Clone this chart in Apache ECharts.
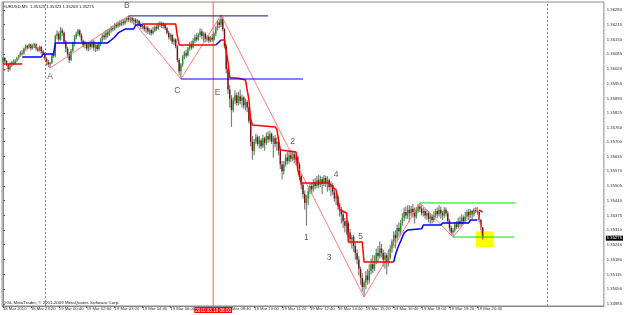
<!DOCTYPE html>
<html><head><meta charset="utf-8">
<script src="https://cdn.jsdelivr.net/npm/echarts@6/dist/echarts.min.js"></script>
<style>html,body{margin:0;padding:0;background:#fff}#c{width:625px;height:315px}</style>
</head><body><div id="c"></div><script>
// ---------- data ----------
const headerText = 'EURUSD,M5  1.35323 1.35323 1.35268 1.35275';
const copyrightText = 'OGL MetaTrader, \u00a9 2001-2009 MetaQuotes Software Corp.';
const slotCount = 345;            // bars that fit in the window (incl. empty right shift)
const basePrice = 1.3;            // prices below are points above 1.30000
const priceMin = 1.349762, priceMax = 1.363152;
const timeTickBars = [0,16,32,48,64,80,96,128,144,160,176,192,208,224,240,256,272];
const timeTickText = ['18 Mar 2010','18 Mar 23:20','19 Mar 00:40','19 Mar 02:00','19 Mar 03:20','19 Mar 04:40','19 Mar 06:00','19 Mar 08:40','19 Mar 10:00','19 Mar 11:20','19 Mar 12:40','19 Mar 14:00','19 Mar 15:20','19 Mar 16:40','19 Mar 18:00','19 Mar 19:20','19 Mar 20:40'];
const priceTicks = [1.36280,1.36215,1.36150,1.36085,1.36020,1.35955,1.35890,1.35825,1.35760,1.35700,1.35635,1.35570,1.35505,1.35440,1.35375,1.35310,1.35246,1.35180,1.35115,1.35050,1.34985];
const lastPrice = 1.35275;
// M5 candles, [open, close, low, high] in points above 1.30000
const ohlcPts = [
[6051,6069,6042,6073],[6069,6055,6047,6073],[6055,6040,6033,6060],[6040,6020,6007,6047],[6020,6035,6012,6051],[6035,6050,6030,6056],[6050,6042,6036,6062],[6042,6058,6040,6064],
[6058,6068,6050,6075],[6068,6080,6062,6084],[6080,6092,6075,6100],[6092,6088,6080,6104],[6088,6110,6084,6115],[6110,6122,6104,6128],[6122,6115,6108,6126],[6115,6128,6110,6132],
[6128,6112,6102,6130],[6112,6125,6106,6130],[6125,6130,6113,6135],[6130,6110,6100,6132],[6110,6102,6095,6118],[6102,6118,6098,6124],[6118,6098,6090,6120],[6098,6090,6082,6104],
[6090,6065,6058,6094],[6065,6050,6036,6072],[6050,6040,6030,6060],[6040,6048,6024,6052],[6048,6085,6042,6090],[6085,6078,6069,6100],[6078,6165,6072,6172],[6165,6175,6150,6190],
[6175,6150,6140,6185],[6150,6190,6145,6205],[6190,6180,6165,6200],[6180,6140,6128,6185],[6140,6110,6095,6148],[6110,6085,6070,6118],[6085,6060,6047,6095],[6060,6100,6055,6108],
[6100,6130,6095,6140],[6130,6160,6120,6170],[6160,6175,6150,6185],[6175,6190,6165,6196],[6190,6170,6160,6195],[6170,6145,6138,6178],[6145,6125,6115,6150],[6125,6135,6110,6145],
[6135,6110,6100,6140],[6110,6130,6098,6138],[6130,6118,6105,6145],[6118,6140,6110,6150],[6140,6115,6100,6148],[6115,6125,6095,6132],[6125,6108,6098,6135],[6108,6130,6102,6140],
[6130,6150,6120,6158],[6150,6168,6140,6178],[6168,6160,6148,6185],[6160,6180,6150,6192],[6180,6172,6158,6195],[6172,6190,6165,6200],[6190,6200,6180,6210],[6200,6195,6185,6212],
[6195,6215,6190,6222],[6215,6208,6200,6225],[6208,6222,6202,6230],[6222,6215,6205,6235],[6215,6228,6210,6238],[6228,6222,6212,6240],[6222,6235,6215,6245],[6235,6245,6225,6250],
[6245,6238,6228,6254],[6238,6245,6225,6250],[6245,6230,6220,6250],[6230,6238,6215,6245],[6238,6225,6218,6244],[6225,6232,6215,6240],[6232,6218,6210,6236],[6218,6205,6195,6225],
[6205,6212,6195,6222],[6212,6195,6185,6218],[6195,6202,6180,6210],[6202,6185,6175,6208],[6185,6192,6170,6200],[6192,6178,6168,6198],[6178,6190,6172,6205],[6190,6205,6182,6212],
[6205,6198,6188,6215],[6198,6215,6192,6225],[6215,6222,6205,6230],[6222,6210,6200,6228],[6210,6218,6198,6226],[6218,6200,6192,6222],[6200,6180,6172,6205],[6180,6160,6150,6190],
[6160,6170,6145,6178],[6170,6140,6130,6175],[6140,6150,6125,6158],[6150,6120,6112,6155],[6120,6060,6050,6125],[6060,6010,5995,6068],[6010,6040,5976,6045],[6040,6075,6030,6082],
[6075,6090,6062,6100],[6090,6080,6068,6105],[6080,6110,6075,6118],[6110,6130,6100,6140],[6130,6115,6105,6142],[6115,6145,6110,6155],[6145,6160,6135,6172],[6160,6150,6140,6178],
[6150,6170,6145,6180],[6170,6185,6160,6200],[6185,6165,6150,6195],[6165,6175,6140,6185],[6175,6150,6138,6182],[6150,6162,6140,6170],[6162,6145,6135,6168],[6145,6158,6138,6165],
[6158,6150,6140,6175],[6150,6175,6145,6182],[6175,6200,6165,6210],[6200,6225,6190,6232],[6225,6215,6200,6240],[6215,6240,6205,6258],[6240,6195,6185,6250],[6195,6120,6110,6200],
[6120,6020,6000,6130],[6020,5930,5910,6030],[5930,5890,5850,5950],[5890,5840,5765,5905],[5840,5880,5830,5895],[5880,5905,5865,5925],[5905,5870,5858,5915],[5870,5900,5860,5920],
[5900,5880,5865,5930],[5880,5895,5850,5908],[5895,5860,5845,5900],[5860,5875,5838,5890],[5875,5850,5830,5885],[5850,5790,5780,5858],[5790,5700,5680,5800],[5700,5660,5620,5725],
[5660,5700,5640,5712],[5700,5720,5690,5735],[5720,5690,5680,5728],[5690,5705,5670,5725],[5705,5680,5668,5715],[5680,5715,5672,5730],[5715,5695,5660,5722],[5695,5725,5685,5740],
[5725,5710,5695,5745],[5710,5735,5700,5748],[5735,5700,5690,5740],[5700,5715,5630,5725],[5715,5690,5675,5730],[5690,5700,5660,5720],[5700,5660,5640,5705],[5660,5600,5580,5668],
[5600,5570,5535,5615],[5570,5600,5555,5615],[5600,5630,5590,5645],[5630,5615,5600,5655],[5615,5640,5605,5660],[5640,5625,5610,5663],[5625,5645,5615,5660],[5645,5620,5605,5655],
[5620,5630,5595,5640],[5630,5600,5580,5638],[5600,5550,5530,5610],[5550,5510,5490,5560],[5510,5470,5450,5520],[5470,5430,5400,5485],[5430,5450,5330,5465],[5450,5480,5420,5495],
[5480,5505,5470,5515],[5505,5490,5470,5520],[5490,5520,5480,5535],[5520,5505,5490,5540],[5505,5530,5495,5550],[5530,5510,5495,5553],[5510,5535,5500,5550],[5535,5515,5470,5545],
[5515,5540,5505,5553],[5540,5520,5500,5550],[5520,5530,5480,5548],[5530,5500,5485,5538],[5500,5510,5460,5525],[5510,5480,5465,5518],[5480,5450,5435,5490],[5450,5460,5420,5475],
[5460,5420,5400,5468],[5420,5400,5370,5430],[5400,5380,5340,5412],[5380,5350,5320,5390],[5350,5330,5300,5365],[5330,5340,5290,5355],[5340,5300,5280,5350],[5300,5270,5250,5315],
[5270,5280,5230,5290],[5280,5240,5215,5290],[5240,5210,5180,5255],[5210,5180,5160,5225],[5180,5140,5110,5195],[5140,5100,5070,5150],[5100,5060,5040,5120],[5060,5080,5016,5090],
[5080,5110,5050,5130],[5110,5090,5070,5140],[5090,5130,5075,5160],[5130,5160,5115,5185],[5160,5140,5120,5200],[5140,5175,5130,5200],[5175,5210,5160,5230],[5210,5195,5170,5240],
[5195,5230,5185,5260],[5230,5210,5190,5250],[5210,5180,5150,5225],[5180,5200,5140,5215],[5200,5170,5115,5210],[5170,5190,5150,5225],[5190,5230,5180,5245],[5230,5260,5210,5270],
[5260,5290,5240,5305],[5290,5275,5230,5310],[5275,5320,5260,5335],[5320,5305,5280,5345],[5305,5340,5290,5355],[5340,5365,5330,5385],[5365,5390,5350,5410],[5390,5375,5360,5415],
[5375,5400,5360,5420],[5400,5385,5345,5420],[5385,5405,5370,5418],[5405,5390,5365,5425],[5390,5370,5340,5410],[5370,5395,5360,5412],[5395,5415,5385,5425],[5415,5405,5390,5430],
[5405,5385,5375,5420],[5385,5395,5370,5410],[5395,5375,5360,5405],[5375,5385,5355,5400],[5385,5360,5345,5395],[5360,5370,5338,5385],[5370,5355,5340,5380],[5355,5375,5345,5392],
[5375,5395,5365,5405],[5395,5380,5365,5410],[5380,5400,5370,5420],[5400,5385,5360,5415],[5385,5375,5355,5395],[5375,5400,5365,5412],[5400,5385,5370,5410],[5385,5350,5340,5395],
[5350,5320,5305,5360],[5320,5300,5290,5330],[5300,5310,5280,5320],[5310,5335,5300,5345],[5335,5325,5315,5350],[5325,5350,5318,5365],[5350,5340,5325,5370],[5340,5365,5330,5380],
[5365,5350,5335,5375],[5350,5370,5340,5390],[5370,5390,5360,5400],[5390,5375,5355,5405],[5375,5395,5365,5402],[5395,5380,5360,5400],[5380,5400,5370,5408],[5400,5395,5385,5410],
[5395,5390,5378,5412],[5390,5355,5345,5395],[5355,5323,5310,5360],[5323,5275,5268,5323]
];
// trailing-stop indicator vertices [bar, points]
const redStop1 = [[0,6042],[11,6042]];
const blueStop1 = [[11,6073],[22,6073],[23,6086],[29,6086],[30,6135],[60,6135],[64,6160],[66,6179],[70,6196],[75,6196],[76,6214],[80,6214]];
const redStop2 = [[80,6218],[99,6218],[100,6165],[101,6126],[122,6126]];
const blueStop2 = [[122,6126],[124,6140],[125,6148]];
const redStop3 = [[125,6148],[127,6148],[129,6051],[130,5983],[135,5979],[139,5972],[141,5884],[142,5800],[143,5773],[156,5765],[157,5755],[159,5663],[168,5655],[169,5575],[171,5518],[187,5518],[189,5500],[191,5487],[193,5400],[197,5386],[198,5258],[206,5258],[207,5170],[224,5170]];
const blueStop3 = [[224,5170],[225,5201],[226,5225],[227,5245],[228,5262],[229,5280],[230,5298],[232,5311],[233,5316],[240,5316],[241,5333],[251,5333],[252,5342],[267,5342],[268,5355],[272,5355]];
const redStop4 = [[273,5399],[275,5390]];
// zigzag pivots [bar, points]
const zigzagPts = [[0,6007],[18,6135],[27,6024],[72,6254],[102,5976],[125,6258],[207,5016],[239,5430],[258,5280],[272,5412],[275,5268]];
// horizontal line objects: [fromBar, toBar, points]
const levelHighB = [72,152,6254];
const levelLowC = [102,172,5976];
const greenTop = [239,294,5430];
const greenBottom = [258,293,5280];
// vertical objects (bar index)
const daySeparators = [24,312];
const redVLineBar = 120.5;
const redVLineText = '2010.03.19 08:00';
// yellow rectangle [fromBar, toBar, topPts, bottomPts]
const yellowBox = [271.2,281.4,5305,5236];
// wave labels [bar, points, text]
const waveLabels = [[27,5985,'A'],[71,6298,'B'],[100,5923,'C'],[123,5914,'E'],[174,5276,'1'],[166,5699,'2'],[187,5188,'3'],[191,5553,'4'],[205,5280,'5']];

// ---------- build ----------
const P = v => +(basePrice + v/100000).toFixed(5);
const candleData = ohlcPts.map((r,i)=>[i,P(r[0]),P(r[1]),P(r[2]),P(r[3])]);
const toXY = arr => arr.map(p=>[p[0],P(p[1])]);
const tickMap = {}; timeTickBars.forEach((b,i)=>tickMap[b]=timeTickText[i]);
const FONT = '"Liberation Sans", Arial, sans-serif';
const CLEAR = 'rgba(0,0,0,0)';

function lineSeries(data,color,width,z,type){
  return {type:'line',data:toXY(data),symbol:'none',silent:true,animation:false,z:z,color:color,
    lineStyle:{color:color,width:width,type:type||'solid'}};
}
function levelSeries(l,color){
  return lineSeries([[l[0],l[2]],[l[1],l[2]]],color,1,4);
}

const chart = echarts.init(document.getElementById('c'),null,{renderer:'canvas'});
chart.setOption({
  animation:false,
  backgroundColor:'#ffffff',
  grid:{left:1,right:17,top:2,bottom:9,show:true,borderColor:'#8a8a8a',borderWidth:1},
  xAxis:{type:'value',min:-0.5,max:slotCount-0.5,
    axisLine:{show:true,onZero:false,lineStyle:{color:'#8a8a8a'}},
    splitLine:{show:false},
    axisTick:{show:true,customValues:timeTickBars,length:2,lineStyle:{color:'#666'}},
    axisLabel:{customValues:timeTickBars,formatter:v=>tickMap[Math.round(v)]||'',align:'left',
      margin:1,fontSize:4.2,color:'#333',fontFamily:FONT}},
  yAxis:{type:'value',position:'right',min:priceMin,max:priceMax,scale:true,
    axisLine:{show:true,lineStyle:{color:'#8a8a8a'}},
    splitLine:{show:false},
    axisTick:{show:true,customValues:priceTicks,length:2,lineStyle:{color:'#666'}},
    axisLabel:{customValues:priceTicks,formatter:v=>v.toFixed(5),margin:3,fontSize:4.2,color:'#333',fontFamily:FONT}},
  graphic:[
    {type:'text',left:3,top:5,silent:true,style:{text:headerText,fontSize:4.2,fill:'#222',fontFamily:FONT}},
    {type:'text',left:3,top:301,silent:true,style:{text:copyrightText,fontSize:4.4,fill:'#222',fontFamily:FONT}}
  ],
  series:[
    {type:'line',data:[],z:1,silent:true,color:'#8a8a8a',
      markArea:{silent:true,itemStyle:{color:'#ffff00',opacity:1},
        data:[[{coord:[yellowBox[0],P(yellowBox[2])]},{coord:[yellowBox[1],P(yellowBox[3])]}]]},
      markLine:{silent:true,symbol:'none',animation:false,label:{show:false},
        lineStyle:{color:'#8a8a8a',type:[2,2],width:1},
        data:daySeparators.map(b=>({xAxis:b}))}},
    // red vertical line object
    {type:'line',z:1,silent:true,symbol:'none',color:'#ff5a5a',
      lineStyle:{color:'#ff5a5a',width:1},
      data:[[redVLineBar,priceMin],[redVLineBar,priceMax]]},
    // its time label on the axis
    {type:'line',data:[],z:7,silent:true,color:'#ff0000',
      markLine:{silent:true,symbol:'none',animation:false,
        lineStyle:{color:CLEAR,width:0},
        label:{show:true,position:'start',distance:1,formatter:redVLineText,backgroundColor:'#ff0000',
          color:'#fff',opacity:1,fontSize:4.6,padding:[1,1,0,1],fontFamily:FONT},
        data:[{xAxis:redVLineBar}]}},
    // current price tag on the price axis
    {type:'line',z:7,silent:true,symbol:'none',color:'#000',
      lineStyle:{color:CLEAR,width:0},
      data:[[-0.5,lastPrice],[slotCount-0.5,lastPrice]],
      endLabel:{show:true,distance:2,formatter:lastPrice.toFixed(5),backgroundColor:'#000',
        color:'#fff',fontSize:4.2,padding:[1,1,0,1],fontFamily:FONT}},
    {type:'custom',z:2,silent:true,data:candleData,encode:{x:0,y:[1,2,3,4]},
      renderItem:function(params,api){
        const i=api.value(0),o=api.value(1),c=api.value(2),l=api.value(3),h=api.value(4);
        const pO=api.coord([i,o]),pC=api.coord([i,c]),pL=api.coord([i,l]),pH=api.coord([i,h]);
        const x=pO[0], bw=1.4;
        const top=Math.min(pO[1],pC[1]), ht=Math.max(1,Math.abs(pO[1]-pC[1]));
        return {type:'group',children:[
          {type:'line',shape:{x1:x,y1:pH[1],x2:x,y2:pL[1]},style:{stroke:'#808080',lineWidth:1.2}},
          {type:'rect',shape:{x:x-bw/2,y:top,width:bw,height:ht},style:{fill:c>=o?'#1e9a1e':'#7a1010'}}
        ]};
      }},
    lineSeries(zigzagPts,'#ff7070',0.9,3),
    lineSeries(redStop1,'#ff0000',1.5,4),
    lineSeries(blueStop1,'#0000ff',1.5,4),
    lineSeries(redStop2,'#ff0000',1.5,4),
    lineSeries(blueStop2,'#0000ff',1.5,4),
    lineSeries(redStop3,'#ff0000',1.5,4),
    lineSeries(blueStop3,'#0000ff',1.5,4),
    lineSeries(redStop4,'#ff0000',1.5,4),
    levelSeries(levelHighB,'#14147a'),
    levelSeries(levelLowC,'#0000ff'),
    levelSeries(greenTop,'#00dd00'),
    levelSeries(greenBottom,'#00dd00'),
    {type:'scatter',z:5,silent:true,symbolSize:0,data:waveLabels.map(w=>[w[0],P(w[1]),w[2]]),
      label:{show:true,position:'inside',formatter:p=>p.data[2],fontSize:8.5,color:'#3a3a3a',fontFamily:FONT}}
  ]
});
</script></body></html>
